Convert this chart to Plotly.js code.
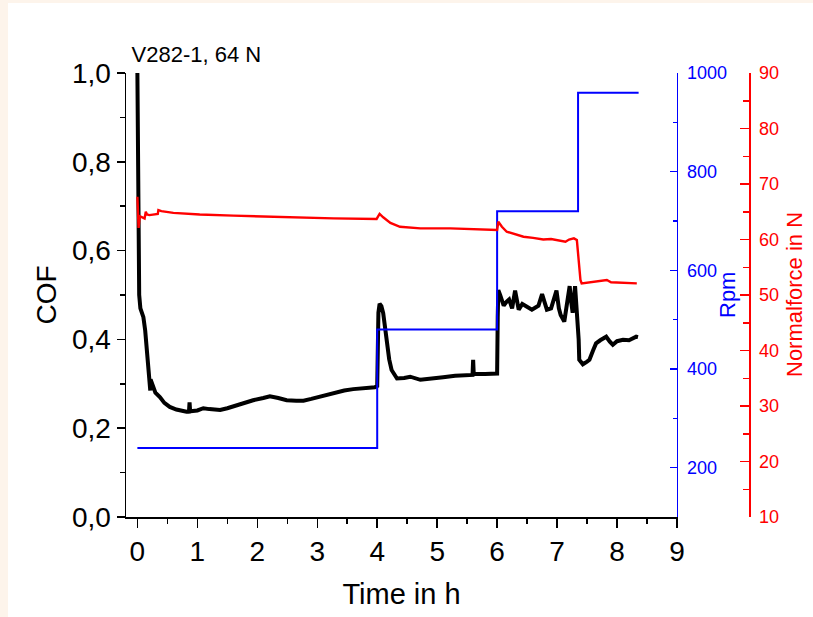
<!DOCTYPE html>
<html>
<head>
<meta charset="utf-8">
<script src="https://cdn.plot.ly/plotly-3.0.1.min.js"></script>
<style>
  html, body { margin: 0; padding: 0; background: #fdf4eb; width: 813px; height: 617px; overflow: hidden; }
  #chart { position: absolute; left: 8px; top: 3px; width: 805px; height: 614px; background: #ffffff; }
</style>
</head>
<body>
<div id="chart"></div>
<script>
// ---- data ----
const cofTime = [0.00,0.01,0.02,0.03,0.05,0.08,0.10,0.13,0.16,0.19,0.21,0.215,0.22,0.26,0.30,0.375,0.45,0.54,0.65,0.82,0.86,0.87,0.88,1.00,1.10,1.20,1.38,1.50,1.66,1.80,1.93,2.10,2.21,2.35,2.49,2.65,2.77,2.90,3.05,3.20,3.33,3.45,3.60,3.80,3.96,4.00,4.01,4.02,4.04,4.07,4.10,4.13,4.16,4.20,4.24,4.33,4.45,4.55,4.72,4.90,5.10,5.30,5.50,5.59,5.60,5.61,5.80,5.99,6.00,6.01,6.02,6.05,6.11,6.16,6.20,6.25,6.30,6.36,6.42,6.47,6.53,6.58,6.64,6.69,6.75,6.80,6.83,6.90,6.95,6.99,7.03,7.06,7.12,7.17,7.21,7.24,7.26,7.30,7.34,7.36,7.37,7.43,7.50,7.54,7.60,7.65,7.72,7.82,7.88,7.93,8.00,8.10,8.20,8.27,8.32,8.35];
const cofValue = [1.00,0.75,0.60,0.50,0.47,0.46,0.45,0.42,0.37,0.33,0.31,0.285,0.31,0.295,0.28,0.27,0.257,0.248,0.242,0.237,0.237,0.258,0.238,0.240,0.245,0.243,0.241,0.245,0.252,0.258,0.263,0.268,0.272,0.268,0.263,0.262,0.262,0.266,0.271,0.277,0.282,0.285,0.288,0.290,0.292,0.295,0.40,0.46,0.48,0.475,0.459,0.43,0.391,0.355,0.331,0.312,0.313,0.316,0.309,0.311,0.315,0.318,0.319,0.320,0.354,0.322,0.322,0.323,0.323,0.45,0.511,0.500,0.476,0.485,0.490,0.470,0.510,0.467,0.480,0.476,0.470,0.467,0.472,0.476,0.502,0.475,0.467,0.470,0.490,0.510,0.470,0.455,0.440,0.485,0.520,0.480,0.460,0.520,0.455,0.400,0.354,0.344,0.350,0.354,0.375,0.391,0.398,0.406,0.395,0.388,0.396,0.399,0.398,0.403,0.406,0.405];

const forceTime = [0.00,0.01,0.02,0.04,0.08,0.12,0.14,0.16,0.20,0.30,0.34,0.35,0.40,0.60,1.04,1.60,2.16,2.70,3.27,3.99,4.04,4.10,4.22,4.38,4.72,5.22,5.60,6.00,6.02,6.08,6.16,6.30,6.44,6.60,6.77,6.90,7.00,7.14,7.20,7.28,7.33,7.36,7.39,7.41,7.55,7.70,7.83,7.90,8.10,8.33];
const forceValue = [67.7,63.0,62.1,64.2,64.0,63.8,65.0,64.5,64.4,64.5,64.6,65.3,65.1,64.8,64.5,64.3,64.1,63.9,63.8,63.7,64.6,64.0,63.0,62.3,62.0,62.0,61.9,61.7,63.2,62.3,61.4,60.9,60.5,60.3,60.0,60.1,59.9,59.6,60.0,60.2,59.9,56.0,52.7,52.1,52.3,52.4,52.7,52.3,52.2,52.1];

const rpmTime = [0.00,4.00,6.00,7.35,8.36];
const rpmValue = [240,480,720,960,960];

const xTicks = [0,1,2,3,4,5,6,7,8,9];
const cofTickVals = [0,0.2,0.4,0.6,0.8,1.0];
const cofTickText = ['0,0','0,2','0,4','0,6','0,8','1,0'];
const rpmTickVals = [200,400,600,800,1000];
const forceTickVals = [10,20,30,40,50,60,70,80,90];

const FONT = 'Liberation Sans, Arial, Helvetica, sans-serif';
const BLUE = '#0000ff';
const RED = '#ff0000';

const traces = [
  { x: cofTime, y: cofValue, type: 'scatter', mode: 'lines', name: 'COF',
    line: { color: '#000000', width: 4 }, yaxis: 'y', hoverinfo: 'x+y' },
  { x: rpmTime, y: rpmValue, type: 'scatter', mode: 'lines', name: 'Rpm',
    line: { color: BLUE, width: 2, shape: 'hv' }, yaxis: 'y2' },
  { x: forceTime, y: forceValue, type: 'scatter', mode: 'lines', name: 'Normalforce',
    line: { color: RED, width: 2.4 }, yaxis: 'y3' }
];

const layout = {
  width: 805, height: 614,
  margin: { l: 118, r: 64, t: 70, b: 100 },
  paper_bgcolor: '#ffffff', plot_bgcolor: 'rgba(0,0,0,0)',
  showlegend: false,
  font: { family: FONT, color: '#000000' },
  title: { text: 'V282-1, 64 N', font: { family: FONT, size: 22, color: '#000' },
           x: 123.5 / 805, xref: 'container', xanchor: 'left',
           y: 1 - 51 / 614, yref: 'container', yanchor: 'middle' },
  xaxis: {
    domain: [0, 0.8844], range: [-0.19, 9],
    tickvals: xTicks, ticks: 'outside', ticklen: 9, tickwidth: 1.5, tickcolor: '#000',
    minor: { dtick: 0.5, tick0: 0, ticks: 'outside', ticklen: 5, tickwidth: 1.5, tickcolor: '#000', showgrid: false },
    showline: true, linecolor: '#000', linewidth: 1.5,
    showgrid: false, zeroline: false,
    tickfont: { family: FONT, size: 28, color: '#000' },
    title: { text: 'Time in h', font: { family: FONT, size: 29, color: '#000' }, standoff: 17 }
  },
  yaxis: {
    range: [0, 1.0], tickvals: cofTickVals, ticktext: cofTickText,
    ticks: 'outside', ticklen: 8, tickwidth: 1.5, tickcolor: '#000',
    minor: { tickvals: [0.1,0.3,0.5,0.7,0.9], ticks: 'outside', ticklen: 5, tickwidth: 1.5, tickcolor: '#000', showgrid: false },
    showline: true, linecolor: '#000', linewidth: 1.5,
    showgrid: false, zeroline: false,
    tickfont: { family: FONT, size: 28, color: '#000' },
    title: { text: 'COF', font: { family: FONT, size: 28, color: '#000' }, standoff: 7 }
  },
  yaxis2: {
    overlaying: 'y', anchor: 'x', side: 'right',
    range: [100, 1000], tickvals: rpmTickVals,
    ticks: 'inside', ticklen: 7, tickwidth: 1.5, tickcolor: BLUE,
    minor: { tickvals: [300,500,700,900], ticks: 'inside', ticklen: 4, tickwidth: 1.5, tickcolor: BLUE, showgrid: false },
    showline: true, linecolor: BLUE, linewidth: 1.5,
    showgrid: false, zeroline: false, ticklabelstandoff: 5,
    tickfont: { family: FONT, size: 18, color: BLUE }
  },
  yaxis3: {
    overlaying: 'y', anchor: 'free', position: 1, side: 'right',
    range: [10, 90], tickvals: forceTickVals,
    ticks: 'inside', ticklen: 9, tickwidth: 1.5, tickcolor: RED,
    minor: { tickvals: [15,25,35,45,55,65,75,85], ticks: 'inside', ticklen: 6, tickwidth: 1.5, tickcolor: RED, showgrid: false },
    showline: true, linecolor: RED, linewidth: 1.5,
    showgrid: false, zeroline: false, ticklabelstandoff: 5,
    tickfont: { family: FONT, size: 18, color: RED }
  },
  annotations: [
    { text: 'Rpm', xref: 'paper', yref: 'paper', x: (727 - 8 - 118) / 623, y: 0.5,
      xanchor: 'center', yanchor: 'middle', textangle: -90, showarrow: false,
      font: { family: FONT, size: 22, color: BLUE } },
    { text: 'Normalforce in N', xref: 'paper', yref: 'paper', x: (794 - 8 - 118) / 623, y: 0.5,
      xanchor: 'center', yanchor: 'middle', textangle: -90, showarrow: false,
      font: { family: FONT, size: 22, color: RED } }
  ]
};

Plotly.newPlot('chart', traces, layout, { displayModeBar: false, staticPlot: true });
</script>
</body>
</html>
